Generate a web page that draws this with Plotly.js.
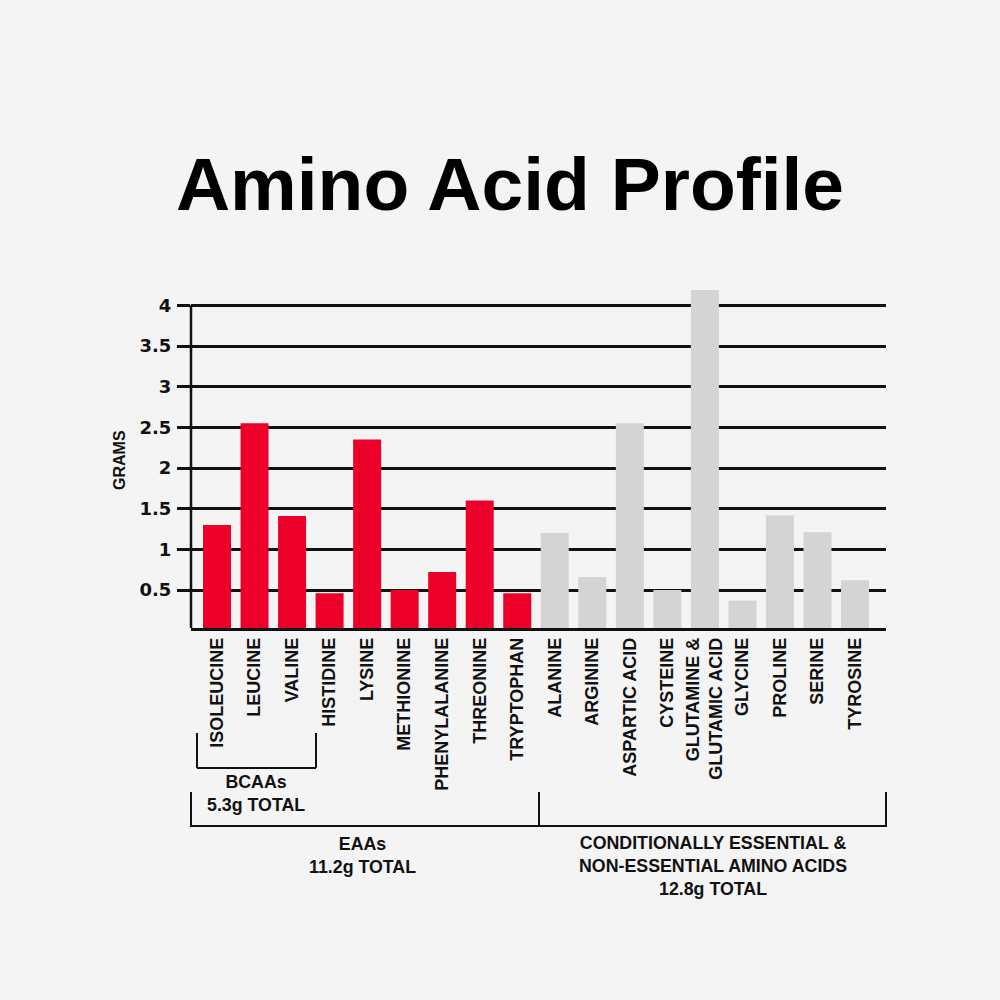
<!DOCTYPE html>
<html>
<head>
<meta charset="utf-8">
<script src="https://cdn.plot.ly/plotly-3.0.1.min.js"></script>
<style>
  html, body { margin: 0; padding: 0; background: #F4F4F4; }
  #chart { width: 1000px; height: 1000px; }
</style>
</head>
<body>
<div id="chart"></div>
<script>
// ---- data ----
const eaaNames = ["ISOLEUCINE", "LEUCINE", "VALINE", "HISTIDINE", "LYSINE",
                  "METHIONINE", "PHENYLALANINE", "THREONINE", "TRYPTOPHAN"];
const eaaValues = [1.30, 2.55, 1.41, 0.46, 2.35, 0.50, 0.72, 1.60, 0.46];

const neaaNames = ["ALANINE", "ARGININE", "ASPARTIC ACID", "CYSTEINE",
                   "GLUTAMINE &<br>GLUTAMIC ACID", "GLYCINE", "PROLINE", "SERINE", "TYROSINE"];
const neaaValues = [1.20, 0.66, 2.55, 0.50, 4.19, 0.37, 1.42, 1.21, 0.62];

const yTickVals = [0.5, 1, 1.5, 2, 2.5, 3, 3.5, 4];
const yTickText = ["0.5", "1", "1.5", "2", "2.5", "3", "3.5", "4"];

const titleText = "Amino Acid Profile";
const yTitleText = "GRAMS";
const bcaaText = "BCAAs<br>5.3g TOTAL";
const eaaText = "EAAs<br>11.2g TOTAL";
const neaaText = "CONDITIONALLY ESSENTIAL &<br>NON-ESSENTIAL AMINO ACIDS<br>12.8g TOTAL";

// ---- styling ----
const RED = "#EC0029";
const GREY = "#D4D4D4";
const BG = "#F4F4F4";
const INK = "#111111";
const LABEL_FONT = "Liberation Sans, Arial, sans-serif";
const NUM_FONT = "DejaVu Sans, Noto Sans, sans-serif";

// plot area in pixels
const L = 191, R = 886, T = 285, B = 628;
const px2x = px => (px - L) / (R - L);
const py2y = py => (B - py) / (B - T);

const xs = eaaNames.concat(neaaNames);
const ys = eaaValues.concat(neaaValues);
const colors = eaaNames.map(() => RED).concat(neaaNames.map(() => GREY));

const trace = {
  type: "bar",
  x: xs,
  y: ys,
  marker: { color: colors, line: { width: 0 } },
  hoverinfo: "skip"
};

function lineShape(x0, y0, x1, y1) {
  return {
    type: "line", xref: "paper", yref: "paper",
    x0: px2x(x0), y0: py2y(y0), x1: px2x(x1), y1: py2y(y1),
    line: { color: INK, width: 2 }
  };
}

const shapes = [
  // y axis line up to 4
  { type: "line", xref: "paper", yref: "y", x0: 0, x1: 0, y0: 0, y1: 4,
    line: { color: INK, width: 2.5 }, layer: "above" },
  // BCAA bracket
  lineShape(197, 733, 197, 768),
  lineShape(197, 768, 316, 768),
  lineShape(316, 733, 316, 768),
  // group bracket
  lineShape(191, 792, 191, 827),
  lineShape(191, 826, 886, 826),
  lineShape(539, 792, 539, 826),
  lineShape(886, 792, 886, 827)
];

function note(text, px, py) {
  return {
    text: text, xref: "paper", yref: "paper",
    x: px2x(px), y: py2y(py), xanchor: "center", yanchor: "middle",
    showarrow: false, align: "center",
    font: { family: LABEL_FONT, size: 17.8, color: INK, weight: 700 }
  };
}

const annotations = [
  note(bcaaText, 256, 793),
  note(eaaText, 362, 855.5),
  note(neaaText, 713, 866),
  {
    text: yTitleText, xref: "paper", yref: "paper",
    x: px2x(119), y: py2y(460), xanchor: "center", yanchor: "middle",
    textangle: -90, showarrow: false,
    font: { family: LABEL_FONT, size: 16, color: INK, weight: 700 }
  }
];

const layout = {
  width: 1000, height: 1000,
  paper_bgcolor: BG, plot_bgcolor: BG,
  margin: { l: L, r: 1000 - R, t: T, b: 1000 - B, pad: 0 },
  showlegend: false,
  bargap: 0.254,
  title: {
    text: titleText,
    xref: "container", yref: "container",
    x: 0.51, y: 0.816, xanchor: "center", yanchor: "middle",
    font: { family: "Liberation Sans, Arial, sans-serif", size: 75, color: "#000", weight: 700 }
  },
  xaxis: {
    type: "category",
    range: [-0.693, 17.826],
    showline: true, linecolor: INK, linewidth: 2.5,
    showgrid: false, zeroline: false,
    ticks: "", tickangle: -90,
    ticklabelstandoff: 0,
    tickfont: { family: LABEL_FONT, size: 18, color: INK, weight: 700 },
    fixedrange: true
  },
  yaxis: {
    range: [0.033, 4.25],
    tickmode: "array", tickvals: yTickVals, ticktext: yTickText,
    ticks: "outside", ticklen: 13, tickwidth: 3, tickcolor: INK,
    showgrid: true, gridcolor: INK, gridwidth: 3,
    showline: false, zeroline: false,
    ticklabelstandoff: 2,
    tickfont: { family: NUM_FONT, size: 18, color: INK, weight: 700 },
    fixedrange: true
  },
  shapes: shapes,
  annotations: annotations
};

Plotly.newPlot("chart", [trace], layout, { staticPlot: true, displayModeBar: false });
</script>
</body>
</html>
